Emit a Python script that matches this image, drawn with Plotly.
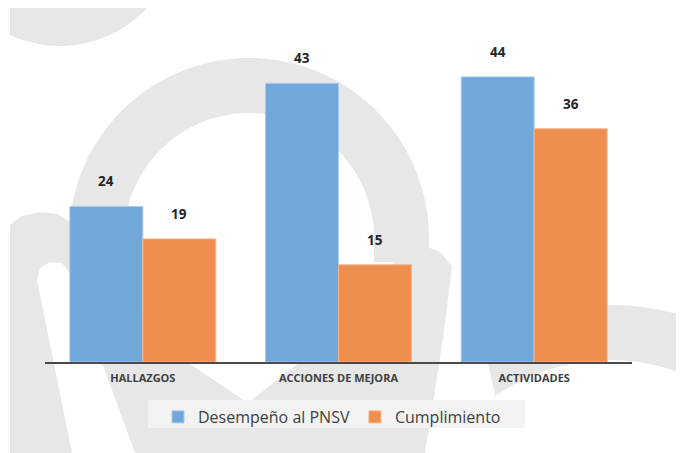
import numpy as np
import plotly.graph_objects as go

# ---------------- data ----------------
categories = ["HALLAZGOS", "ACCIONES DE MEJORA", "ACTIVIDADES"]
desempeno = [24, 43, 44]
cumplimiento = [19, 15, 36]
series_names = ["Desempeño al PNSV", "Cumplimiento"]

# ---------------- geometry helpers (decorative watermark, screen px) ----------------
W, H = 684, 453
OFF = 8  # page body margin in the browser
ML, MR, MT, MB = 37, 60, 30, 99
PW, PH = W - ML - MR, H - MT - MB


def px(x):
    return (x - OFF - ML) / PW


def py(y):
    return (H - MB - (y - OFF)) / PH


def arc(cx, cy, r, a0, a1, n=48):
    a = np.radians(np.linspace(a0, a1, n))
    return list(zip(cx + r * np.cos(a), cy - r * np.sin(a)))


def poly(points):
    return "M " + " L ".join(f"{px(x):.4f},{py(y):.4f}" for x, y in points) + " Z"


WM = "#e7e7e7"
shapes = []


def add(path, color=WM):
    shapes.append(dict(type="path", xref="paper", yref="paper", path=path,
                       fillcolor=color, line=dict(width=0), layer="below"))


# top-left blob
add(poly(arc(60, -73, 119, 0, 360, 80)))
# big ring (upper part)
ring = arc(249, 238, 180, 180, 0) + [(429, 262), (374, 262)] + arc(249, 238, 125, 0, 180) + [(124, 262), (69, 262)]
add(poly(ring))
# left arch + V arms
add(poly([(10, 225), (22, 216), (40, 212), (58, 214), (70, 222), (80, 238),
          (187, 362), (248, 403), (300, 362), (395, 262), (408, 250), (425, 246),
          (440, 252), (452, 266), (429, 453), (10, 453)]))
# white hook on the left
add(poly([(37, 280), (40, 268), (50, 262), (62, 263), (69, 272), (135, 453), (72, 453)]), "white")
# white gap right of the right arm
add(poly([(455, 262), (470, 250), (490, 250), (470, 300), (440, 453), (425, 453)]), "white")
# bottom-right ring band
add(poly(arc(610, 560, 255, 120, 15) + arc(610, 560, 200, 15, 125)))
# page margins
shapes.append(dict(type="rect", xref="paper", yref="paper", x0=px(0), x1=px(W + 20), y0=py(0), y1=py(8),
                   fillcolor="white", line=dict(width=0), layer="below"))
shapes.append(dict(type="rect", xref="paper", yref="paper", x0=px(0), x1=px(10), y0=py(0), y1=py(H + 20),
                   fillcolor="white", line=dict(width=0), layer="below"))
# legend background
shapes.append(dict(type="rect", xref="paper", yref="paper", x0=px(148), x1=px(525), y0=py(400), y1=py(428),
                   fillcolor="#f3f3f3", line=dict(width=0), layer="below"))

# ---------------- figure ----------------
colors = ["#72A7D9", "#EE8F50"]
edges = ["#A9CBEC", "#F6B68C"]
bargap = 0.254

fig = go.Figure()
for name, vals, c, e in zip(series_names, [desempeno, cumplimiento], colors, edges):
    fig.add_trace(go.Bar(x=categories, y=vals, name=name, marker=dict(color=c, line=dict(color=e, width=1))))

off = (1 - bargap) / 4
annotations = []
for s, vals in enumerate([desempeno, cumplimiento]):
    for i, v in enumerate(vals):
        annotations.append(dict(x=i + (-off if s == 0 else off), y=v, xref="x", yref="y",
                                text=str(v), showarrow=False, yanchor="bottom", yshift=14,
                                font=dict(family="Open Sans", size=13.5, color="#262626", weight=700)))

fig.update_layout(
    width=W, height=H,
    margin=dict(l=ML, r=MR, t=MT, b=MB),
    paper_bgcolor="white", plot_bgcolor="rgba(0,0,0,0)",
    barmode="group", bargap=bargap, bargroupgap=0,
    shapes=shapes, annotations=annotations,
    showlegend=True,
    legend=dict(orientation="h", x=px(332), xanchor="center", y=py(400), yanchor="top",
                bgcolor="rgba(0,0,0,0)", font=dict(family="Open Sans", size=16, color="#404040"),
                traceorder="normal"),
    xaxis=dict(range=[-0.5, 2.5], showline=True, linecolor="#4a4a4a", linewidth=2,
               ticks="outside", ticklen=5, tickcolor="rgba(0,0,0,0)", showgrid=False,
               tickfont=dict(family="Open Sans", size=11, color="#404040", weight=700)),
    yaxis=dict(range=[0, 50], visible=False, showgrid=False, zeroline=False),
)

fig.write_html("out.html")
